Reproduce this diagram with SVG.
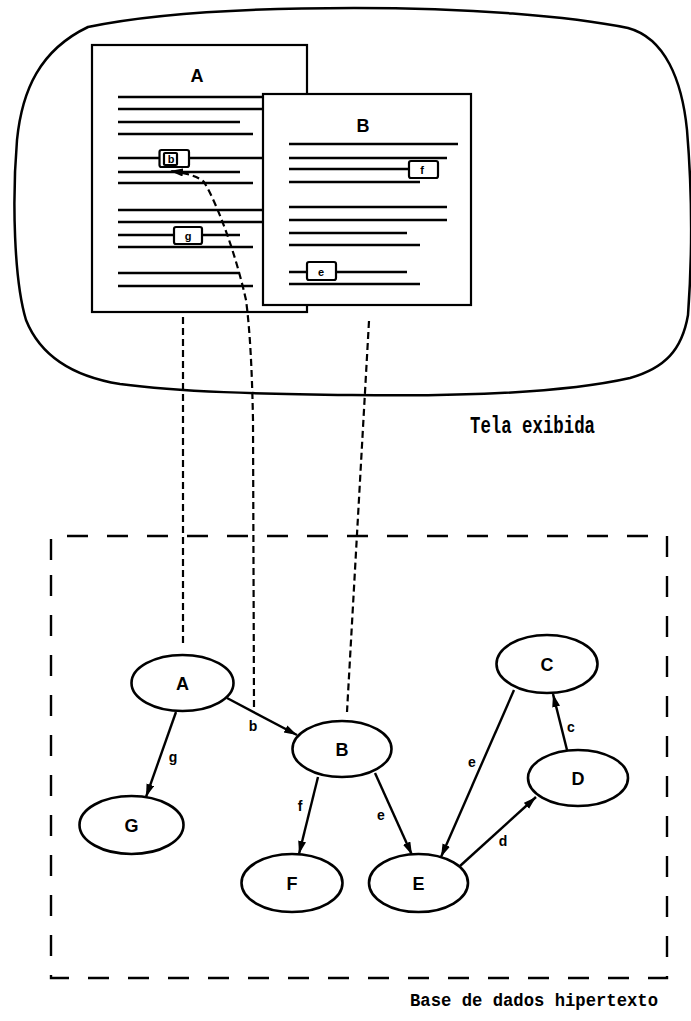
<svg xmlns="http://www.w3.org/2000/svg" width="691" height="1021" viewBox="0 0 691 1021">
<style>
.bg{fill:#fff}
.scr{fill:none;stroke:#000;stroke-width:2.5}
.doc{fill:#fff;stroke:#000;stroke-width:2.2}
.tl{stroke:#000;stroke-width:2.6;fill:none}
.lbox{fill:#fff;stroke:#000;stroke-width:2.2}
.lt{font-family:"Liberation Sans",Arial,sans-serif;font-weight:bold;font-size:11px;fill:#000;text-anchor:middle}
.big{font-family:"Liberation Sans",Arial,sans-serif;font-weight:bold;font-size:18px;fill:#000;text-anchor:middle}
.node{fill:#fff;stroke:#000;stroke-width:2.6}
.edge{stroke:#000;stroke-width:2.4;fill:none}
.el{font-family:"Liberation Sans",Arial,sans-serif;font-weight:bold;font-size:14px;fill:#000;text-anchor:middle}
.dash{stroke:#000;stroke-width:2.2;fill:none;stroke-dasharray:7 4}
.box{fill:none;stroke:#000;stroke-width:2.4;stroke-dasharray:21 19}
.cap{font-family:"Liberation Mono","DejaVu Sans Mono",monospace;font-weight:bold;fill:#000}
</style>
<defs>
<marker id="arr" markerUnits="userSpaceOnUse" markerWidth="14" markerHeight="10" refX="13" refY="4" orient="auto">
<path d="M0,0 L13,4 L0,8 Z" fill="#000"/>
</marker>
</defs>
<rect class="bg" x="0" y="0" width="691" height="1021"/>

<g id="screen">
<path class="scr" d="M 354,8 C 470,8 570,16 628,28 C 665,38 682,80 687,130 C 692,190 692,260 688,315 C 682,350 665,368 630,378 C 550,396 420,396 352,395 C 260,394 180,392 120,384 C 70,376 40,355 26,320 C 14,280 12,200 17,140 C 22,90 40,50 88,27 C 160,12 260,8 354,8 Z"/>
</g>

<g id="docA">
<rect class="doc" x="92" y="45" width="215" height="267"/>
<text class="big" x="197" y="82">A</text>
<path class="tl" d="M118,97 H270 M118,109 H270 M118,122 H240 M118,134 H253 M118,158 H270 M118,172 H240 M118,183 H253 M118,210 H270 M118,222 H270 M118,235 H240 M118,247 H253 M118,273 H240 M118,286 H253"/>
<rect class="lbox" x="159.5" y="150" width="29.5" height="17" rx="2"/>
<rect class="lbox" x="164" y="153" width="13" height="12" rx="1"/>
<text class="lt" x="171" y="163">b</text>
<rect class="lbox" x="174" y="227" width="28" height="17" rx="2"/>
<text class="lt" x="188" y="240">g</text>
</g>

<g id="docB">
<rect class="doc" x="263" y="94" width="208" height="211"/>
<text class="big" x="363" y="132">B</text>
<path class="tl" d="M289,144 H458 M289,158 H447 M289,169 H409 M289,182 H420 M289,207 H447 M289,220 H447 M289,233 H407 M289,245 H420 M289,272 H407 M289,284 H420"/>
<rect class="lbox" x="409" y="161" width="29" height="17" rx="2"/>
<text class="lt" x="422" y="174">f</text>
<rect class="lbox" x="307" y="262" width="29" height="18" rx="2"/>
<text class="lt" x="321" y="276">e</text>
</g>

<text class="cap" x="470" y="433" font-size="24" textLength="125" lengthAdjust="spacingAndGlyphs">Tela exibida</text>

<g id="database">
<path class="box" d="M51,560 V536 H667 V978 H51 Z"/>
</g>
<text class="cap" x="410" y="1006" font-size="19" textLength="248" lengthAdjust="spacingAndGlyphs">Base de dados hipertexto</text>

<g id="connectors">
<path class="dash" d="M183,317 V647"/>
<path class="dash" d="M369,321 L347,712"/>
<path class="dash" marker-end="url(#arr)" d="M254,707 L253,420 C252,370 250,330 246,300 C236,255 218,205 204,182 Q196,174 170,171"/>
<line class="edge" x1="176" y1="712" x2="146" y2="797" marker-end="url(#arr)"/>
<line class="edge" x1="227" y1="698" x2="297" y2="735" marker-end="url(#arr)"/>
<line class="edge" x1="318" y1="777" x2="299" y2="854" marker-end="url(#arr)"/>
<line class="edge" x1="375" y1="773" x2="412" y2="855" marker-end="url(#arr)"/>
<line class="edge" x1="514" y1="690" x2="441" y2="857" marker-end="url(#arr)"/>
<line class="edge" x1="567" y1="750" x2="553" y2="694" marker-end="url(#arr)"/>
<line class="edge" x1="460" y1="866" x2="536" y2="797" marker-end="url(#arr)"/>
<text class="el" x="173" y="762">g</text>
<text class="el" x="253" y="731">b</text>
<text class="el" x="300" y="811">f</text>
<text class="el" x="381" y="820">e</text>
<text class="el" x="472" y="767">e</text>
<text class="el" x="571" y="732">c</text>
<text class="el" x="503" y="846">d</text>
</g>

<g id="nodeA"><ellipse class="node" cx="182.5" cy="683" rx="51" ry="28"/><text class="big" x="182.5" y="690">A</text></g>
<g id="nodeB"><ellipse class="node" cx="342" cy="749" rx="49.5" ry="28"/><text class="big" x="342" y="756">B</text></g>
<g id="nodeC"><ellipse class="node" cx="547" cy="664" rx="50.5" ry="29"/><text class="big" x="547" y="671">C</text></g>
<g id="nodeD"><ellipse class="node" cx="578" cy="778" rx="50" ry="28"/><text class="big" x="578" y="785">D</text></g>
<g id="nodeG"><ellipse class="node" cx="131.5" cy="825" rx="52" ry="29"/><text class="big" x="131.5" y="832">G</text></g>
<g id="nodeF"><ellipse class="node" cx="292" cy="883" rx="50.5" ry="29"/><text class="big" x="292" y="890">F</text></g>
<g id="nodeE"><ellipse class="node" cx="418.5" cy="883" rx="49.5" ry="29"/><text class="big" x="418.5" y="890">E</text></g>
</svg>
